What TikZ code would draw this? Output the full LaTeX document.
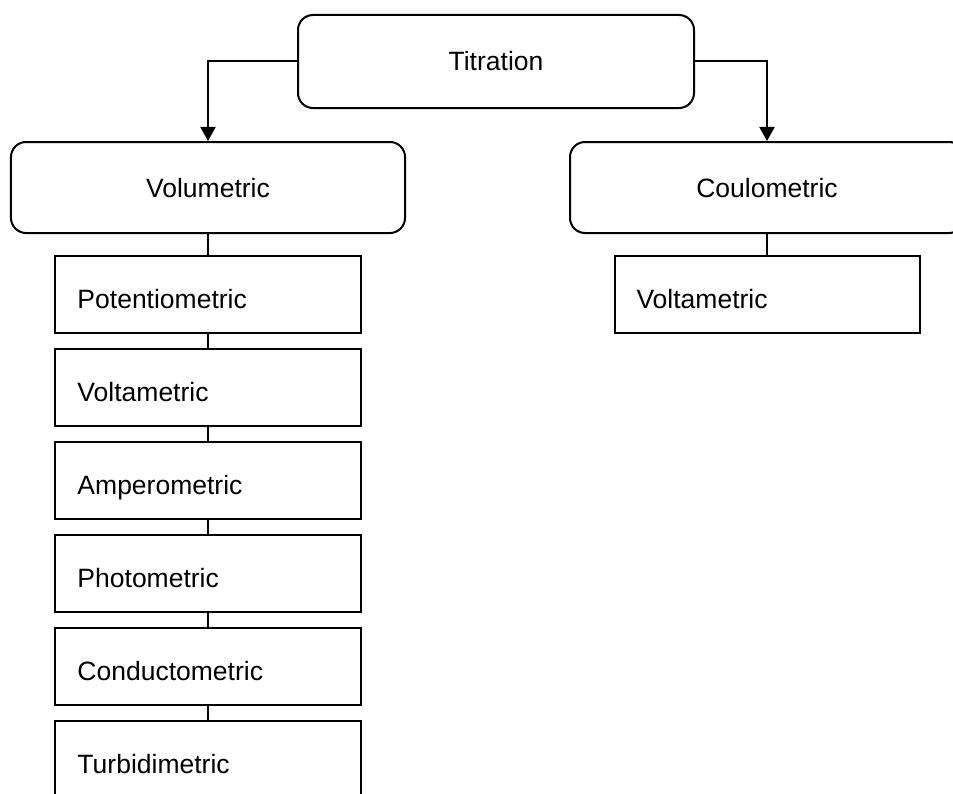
\documentclass[tikz,border=0pt]{standalone}
\usepackage{fontspec}
\setmainfont{Liberation Sans}
\usetikzlibrary{arrows.meta}
\tikzset{
  base/.style={draw=black, line width=2bp, font=\fontsize{26.5bp}{32bp}\selectfont, inner ysep=0pt},
  roundbox/.style={base, rounded corners=15bp, text height=19bp, text depth=0pt, align=center},
  sqbox/.style={base, minimum width=305bp, minimum height=77bp, inner xsep=22bp, text width=261bp, align=left, text height=27bp, text depth=0pt},
  link/.style={line width=2bp},
  arr/.style={line width=2bp, -{Triangle[width=15bp,length=14bp]}}
}
\begin{document}
\begin{tikzpicture}[x=1bp,y=-1bp]
\clip (0,0) rectangle (953,794);
\fill[white] (0,0) rectangle (953,794);
\node[roundbox, minimum width=396bp, minimum height=93bp] (T) at (496,61.5) {Titration};
\node[roundbox, minimum width=394bp, minimum height=91bp] (V) at (208,187.5) {Volumetric};
\node[roundbox, minimum width=394bp, minimum height=91bp] (C) at (767,187.5) {Coulometric};
\node[sqbox] (p1) at (208,294.5) {Potentiometric};
\node[sqbox] (p2) at (208,387.5) {Voltametric};
\node[sqbox] (p3) at (208,480.5) {Amperometric};
\node[sqbox] (p4) at (208,573.5) {Photometric};
\node[sqbox] (p5) at (208,666.5) {Conductometric};
\node[sqbox] (p6) at (208,759.5) {Turbidimetric};
\node[sqbox] (q1) at (767,294.5) {Voltametric};
\draw[arr] (T.west) -| (V.north);
\draw[arr] (T.east) -| (C.north);
\draw[link] (V.south) -- (p1.north);
\draw[link] (p1.south) -- (p2.north);
\draw[link] (p2.south) -- (p3.north);
\draw[link] (p3.south) -- (p4.north);
\draw[link] (p4.south) -- (p5.north);
\draw[link] (p5.south) -- (p6.north);
\draw[link] (C.south) -- (q1.north);
\end{tikzpicture}
\end{document}
